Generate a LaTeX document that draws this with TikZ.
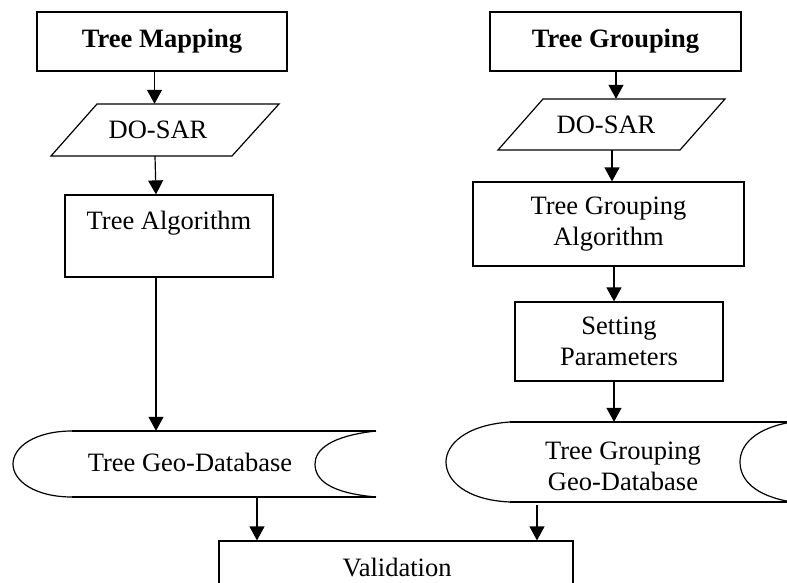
\documentclass[tikz,border=0pt]{standalone}
\usepackage{fontspec}
\setmainfont{Liberation Serif}
\usetikzlibrary{arrows.meta}
\tikzset{
  every node/.style={font=\fontsize{26.5}{31}\selectfont, inner sep=0pt, align=center},
  boxnode/.style={draw, line width=1.2pt, rectangle},
  ghost/.style={draw=none, rectangle},
  outline/.style={line width=1.2pt},
  arr/.style={line width=1.2pt, -{Triangle[length=14pt,width=15pt]}}
}
\begin{document}
\begin{tikzpicture}[x=1pt,y=-1pt]
\useasboundingbox (0,0) rectangle (787,583);
\fill[white] (0,0) rectangle (787,583);

% left column
\node[boxnode, minimum width=250pt, minimum height=59pt] (tm) at (162,41.5) {\textbf{Tree Mapping}};
\node[ghost, minimum width=200pt, minimum height=52pt] (ds1) at (158,130) {DO-SAR};
\draw[outline] (97,104) -- (279,104) -- (232,156) -- (51,156) -- cycle;
\node[boxnode, minimum width=208pt, minimum height=82pt] (ta) at (169,236) {};
\node (tat) at (169,223) {Tree Algorithm};
\node[ghost, minimum width=363pt, minimum height=66pt] (gdb1) at (194.5,464) {};
\node (gdb1t) at (190,462) {Tree Geo-Database};
\draw[outline] (72,431) -- (376,431);
\draw[outline] (72,497) -- (376,497);
\draw[outline] (72,431) .. controls (35,431) and (13,447) .. (13,464) .. controls (13,481) and (35,497) .. (72,497);
\draw[outline] (376,431) .. controls (330,436) and (315,450) .. (315,464) .. controls (315,480) and (330,493) .. (376,497);

% right column
\node[boxnode, minimum width=251pt, minimum height=59pt] (tg) at (615.5,41.5) {\textbf{Tree Grouping}};
\node[ghost, minimum width=200pt, minimum height=51pt] (ds2) at (606,124.5) {DO-SAR};
\draw[outline] (543,99) -- (725,99) -- (680,150) -- (498,150) -- cycle;
\node[boxnode, minimum width=271pt, minimum height=84pt] (tga) at (608.5,224) {Tree Grouping\\Algorithm};
\node[boxnode, minimum width=208pt, minimum height=79pt] (sp) at (619,341.5) {Setting\\Parameters};
\node[ghost, minimum width=344pt, minimum height=80pt] (gdb2) at (618,462) {};
\node (gdb2t) at (623,466) {Tree Grouping\\Geo-Database};
\draw[outline] (510,422) -- (792,422);
\draw[outline] (510,502) -- (792,502);
\draw[outline] (510,422) .. controls (465,425) and (446,445) .. (446,462) .. controls (446,480) and (465,500) .. (510,502);
\draw[outline] (792,422) .. controls (755,428) and (740,445) .. (740,462) .. controls (740,480) and (755,496) .. (792,502);

% validation
\node[boxnode, minimum width=354pt, minimum height=90pt] (val) at (396,586) {};
\node (valt) at (397,568) {Validation};

% connectors
\draw[arr] ([xshift=-7.5pt]tm.south) -- ([xshift=-3.5pt]ds1.north);
\draw[arr] ([xshift=-3pt]ds1.south) -- ([xshift=-13pt]ta.north);
\draw[arr] ([xshift=-13pt]ta.south) -- ([xshift=-38.5pt]gdb1.north);
\draw[arr] ([xshift=62.5pt]gdb1.south) -- ([xshift=-139pt]val.north);
\draw[arr] ([xshift=0.5pt]tg.south) -- ([xshift=10pt]ds2.north);
\draw[arr] ([xshift=6pt]ds2.south) -- ([xshift=3.5pt]tga.north);
\draw[arr] ([xshift=5.5pt]tga.south) -- ([xshift=-5pt]sp.north);
\draw[arr] ([xshift=-5pt]sp.south) -- ([xshift=-4pt]gdb2.north);
\draw[arr] ([xshift=-81pt,yshift=-3pt]gdb2.south) -- ([xshift=141pt]val.north);
\end{tikzpicture}
\end{document}
